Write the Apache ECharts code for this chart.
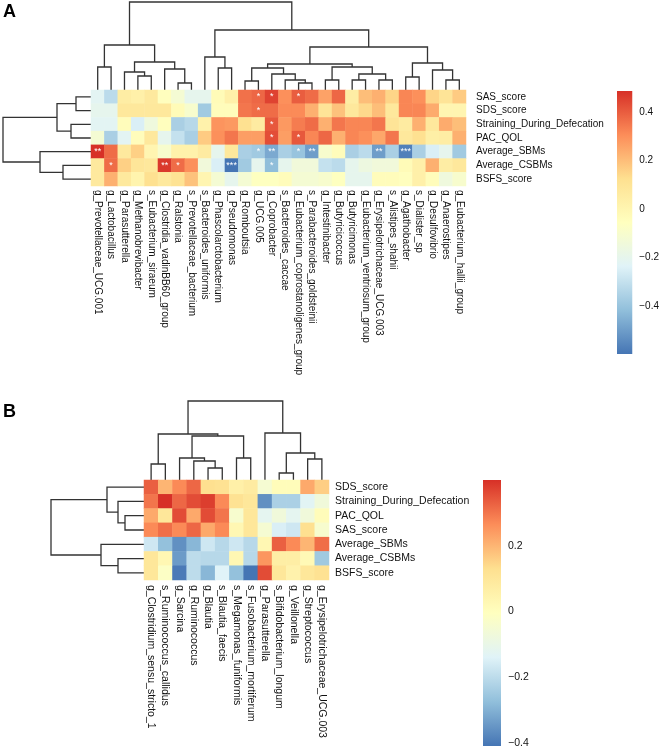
<!DOCTYPE html>
<html>
<head>
<meta charset="utf-8">
<script src="https://cdn.jsdelivr.net/npm/echarts@6/dist/echarts.min.js"></script>
<style>
html, body { margin: 0; padding: 0; background: #fff; }
#chart { width: 662px; height: 749px; }
</style>
</head>
<body>
<div id="chart"></div>
<script>
var font = '"Liberation Sans", Arial, sans-serif';
// pheatmap default: rev(brewer.pal(7, "RdYlBu"))
var palette = ['#4575B4', '#91BFDB', '#E0F3F8', '#FFFFBF', '#FEE090', '#FC8D59', '#D73027'];

// ---- panel A ----
var taxaA = ['g_Prevotellaceae_UCG.001', 'g_Lactobacillus', 'g_Parasutterella', 'g_Methanobrevibacter',
    's_Eubacterium_siraeum', 'g_Clostridia_vadinBB60_group', 'g_Ralstonia', 's_Prevotellaceae_bacterium',
    's_Bacteroides_uniformis', 'g_Phascolarctobacterium', 'g_Pseudomonas', 'g_Romboutsia', 'g_UCG.005',
    'g_Coprobacter', 's_Bacteroides_caccae', 'g_Eubacterium_coprostanoligenes_group',
    's_Parabacteroides_goldsteinii', 'g_Intestinibacter', 'g_Butyricicoccus', 'g_Butyricimonas',
    'g_Eubacterium_ventriosum_group', 'g_Erysipelotrichaceae_UCG.003', 's_Alistipes_shahii',
    'g_Agathobacter', 's_Dialister_sp', 'g_Desulfovibrio', 'g_Anaerostipes', 'g_Eubacterium_hallii_group'];
var rowsA = ['SAS_score', 'SDS_score', 'Straining_During_Defecation', 'PAC_QOL', 'Average_SBMs', 'Average_CSBMs', 'BSFS_score'];
var valuesA = [
    [-0.22, -0.32, 0.05, 0.03, 0.07, -0.05, -0.12, -0.2, -0.2, -0.03, 0.03, 0.36, 0.38, 0.45, 0.3, 0.4, 0.37, 0.26, 0.38, 0.05, 0.2, 0.23, 0.15, 0.32, 0.3, 0.15, 0.1, 0.17],
    [-0.2, -0.2, 0.08, 0.08, 0.08, 0.08, -0.03, -0.1, -0.38, -0.04, -0.04, 0.35, 0.37, 0.37, 0.31, 0.31, 0.23, 0.1, 0.19, 0.08, 0.14, 0.2, 0.08, 0.32, 0.32, 0.24, 0.0, 0.0],
    [-0.22, -0.22, -0.04, -0.25, -0.15, -0.05, -0.36, -0.33, 0.02, 0.29, 0.28, 0.12, 0.06, 0.41, 0.28, 0.34, 0.37, 0.23, 0.35, 0.32, 0.32, 0.35, 0.1, 0.06, 0.23, 0.08, 0.24, 0.2],
    [-0.12, -0.36, -0.22, -0.04, 0.08, -0.2, -0.3, -0.36, 0.17, 0.3, 0.35, 0.27, 0.27, 0.43, 0.27, 0.41, 0.32, 0.38, 0.23, 0.32, 0.3, 0.25, 0.35, 0.08, 0.12, 0.04, 0.05, 0.23],
    [0.487, 0.37, 0.07, 0.16, 0.0, -0.1, 0.02, 0.02, 0.06, -0.2, 0.08, -0.36, -0.38, -0.47, -0.36, -0.4, -0.5, -0.1, -0.04, -0.36, -0.32, -0.5, -0.36, -0.57, -0.36, -0.25, -0.2, -0.38],
    [0.07, 0.37, 0.16, 0.09, 0.08, 0.47, 0.37, 0.3, -0.14, -0.25, -0.598, -0.38, -0.2, -0.42, -0.2, -0.14, -0.14, -0.3, -0.32, -0.2, -0.16, -0.14, -0.14, -0.03, 0.03, 0.23, 0.05, 0.08],
    [0.07, 0.23, 0.07, 0.01, 0.12, 0.07, 0.11, 0.19, 0.0, -0.12, -0.2, -0.12, -0.06, -0.06, -0.04, -0.12, -0.12, -0.1, -0.06, -0.2, -0.2, -0.04, -0.04, -0.05, 0.03, -0.04, -0.15, -0.1]
];
// [column, row, mark]
var starsA = [[12, 0, '*'], [13, 0, '*'], [15, 0, '*'], [12, 1, '*'], [13, 2, '*'], [13, 3, '*'], [15, 3, '*'],
    [0, 4, '**'], [12, 4, '*'], [13, 4, '**'], [15, 4, '*'], [16, 4, '**'], [21, 4, '**'], [23, 4, '***'],
    [1, 5, '*'], [5, 5, '**'], [6, 5, '*'], [10, 5, '***'], [13, 5, '*']];
// hclust style merges: negative = leaf (1-based), positive = earlier merge; third = height
var colTreeA = [[-1, -2, 23], [-4, -5, 14], [-3, 2, 18], [-7, -8, 7], [-6, 4, 21], [3, 5, 28], [1, 6, 45],
    [-10, -11, 22], [-9, 8, 33], [-12, -13, 9], [-16, -17, 7], [-15, 11, 10], [-14, 12, 16], [10, 13, 22],
    [-18, -19, 10], [-20, -21, 10], [-22, -23, 10], [16, 17, 16], [15, 18, 23], [14, 19, 26],
    [-24, -25, 13], [-27, -28, 10], [-26, 22, 20], [21, 23, 27], [20, 24, 43], [9, 25, 60], [7, 26, 88]];
var rowTreeA = [[-1, -2, 15], [-3, -4, 20], [1, 2, 34], [-6, -7, 28], [-5, 4, 51], [3, 5, 88]];
var rangeA = [-0.598, 0.487];
var keyTicksA = [-0.4, -0.2, 0, 0.2, 0.4];

// ---- panel B ----
var taxaB = ['g_Clostridium_sensu_stricto_1', 's_Ruminococcus_callidus', 'g_Sarcina', 'g_Ruminococcus',
    'g_Blautia', 's_Blautia_faecis', 's_Megamonas_funiformis', 's_Fusobacterium_mortiferum',
    'g_Parasutterella', 's_Bifidobacterium_longum', 'g_Veillonella', 'g_Streptococcus', 'g_Erysipelotrichaceae_UCG.003'];
var rowsB = ['SDS_score', 'Straining_During_Defecation', 'PAC_QOL', 'SAS_score', 'Average_SBMs', 'Average_CSBMs', 'BSFS_score'];
var valuesB = [
    [0.33, 0.2, 0.27, 0.32, 0.13, 0.12, 0.06, 0.08, -0.05, 0.01, 0.01, 0.22, 0.16],
    [0.3, 0.40, 0.32, 0.36, 0.38, 0.27, 0.12, 0.1, -0.36, -0.23, -0.23, -0.13, -0.07],
    [0.22, 0.1, 0.36, 0.22, 0.36, 0.3, -0.04, 0.1, -0.12, -0.07, -0.12, -0.07, 0.01],
    [0.27, 0.31, 0.27, 0.32, 0.22, 0.27, 0.03, 0.1, -0.05, -0.15, -0.17, 0.13, -0.04],
    [-0.17, -0.27, -0.36, -0.29, -0.17, -0.21, -0.17, -0.21, 0.03, 0.33, 0.27, 0.2, 0.31],
    [0.1, 0.03, -0.34, -0.2, -0.21, -0.21, 0.03, -0.21, 0.25, 0.07, 0.07, 0.02, -0.25],
    [0.1, -0.02, -0.4, -0.2, -0.29, -0.14, -0.27, -0.41, 0.36, 0.1, 0.05, 0.1, 0.12]
];
var colTreeB = [[-1, -2, 16], [-5, -6, 12], [-4, 2, 19], [-3, 3, 22], [-7, -8, 22], [4, 5, 44], [1, 6, 46],
    [-10, -11, 7], [-12, -13, 21], [8, 9, 27], [-9, 10, 47], [7, 11, 79]];
var rowTreeB = [[-3, -4, 19], [-2, 1, 26], [-1, 2, 37], [-6, -7, 26], [-5, 4, 43], [3, 5, 93]];
var rangeB = [-0.41, 0.40];
var keyTicksB = [-0.4, -0.2, 0, 0.2];

// ---- helpers ----
function cells(values) {
    var out = [];
    values.forEach(function (row, r) {
        row.forEach(function (v, c) { out.push([c, r, v]); });
    });
    return out;
}
function starLookup(list) {
    var m = {};
    list.forEach(function (s) { m[s[0] + '_' + s[1]] = s[2]; });
    return m;
}
// one U-shaped link per merge: [posA, hA, posB, hB, h]
function dendro(tree) {
    var pos = [], hgt = [], segs = [];
    function at(ref) { return ref < 0 ? [-ref - 0.5, 0] : [pos[ref - 1], hgt[ref - 1]]; }
    tree.forEach(function (m) {
        var a = at(m[0]), b = at(m[1]);
        pos.push((a[0] + b[0]) / 2);
        hgt.push(m[2]);
        segs.push([a[0], a[1], b[0], b[1], m[2]]);
    });
    return segs;
}
function treeTop(tree) { return tree[tree.length - 1][2]; }
function linkRender(horizontal) {
    return function (params, api) {
        var pts = [[api.value(0), api.value(1)], [api.value(0), api.value(4)],
                   [api.value(2), api.value(4)], [api.value(2), api.value(3)]];
        pts = pts.map(function (p) { return api.coord(horizontal ? [p[1], p[0]] : p); });
        return { type: 'polyline', shape: { points: pts },
                 style: { stroke: '#333', lineWidth: 1.3, fill: null } };
    };
}
function barRender(params, api) {
    var p0 = api.coord([0, api.value(1)]);
    var p1 = api.coord([1, api.value(0)]);
    var stops = palette.slice().reverse().map(function (c, i) {
        return { offset: i / (palette.length - 1), color: c };
    });
    return { type: 'rect', shape: { x: p0[0], y: p0[1], width: p1[0] - p0[0], height: p1[1] - p0[1] },
             style: { fill: new echarts.graphic.LinearGradient(0, 0, 0, 1, stops) } };
}
function fmt(v) { return v < 0 ? '\u2212' + Math.abs(v) : String(v); }

var hidden = { show: false };
var grids = [], xAxes = [], yAxes = [], series = [], visualMaps = [];

function panel(p) {
    var g0 = grids.length;
    var nc = p.taxa.length, nr = p.rows.length;
    // column dendrogram
    grids.push({ left: p.left, top: p.top - p.colTree, width: p.width, height: p.colTree });
    xAxes.push({ type: 'value', gridIndex: g0, min: 0, max: nc, show: false });
    yAxes.push({ type: 'value', gridIndex: g0, min: 0, max: treeTop(p.ctree), show: false });
    series.push({ type: 'custom', xAxisIndex: g0, yAxisIndex: g0, data: dendro(p.ctree),
                  renderItem: linkRender(false), silent: true });
    // row dendrogram
    grids.push({ left: p.left - p.rowTree, top: p.top, width: p.rowTree, height: p.height });
    xAxes.push({ type: 'value', gridIndex: g0 + 1, min: 0, max: treeTop(p.rtree), inverse: true, show: false });
    yAxes.push({ type: 'value', gridIndex: g0 + 1, min: 0, max: nr, inverse: true, show: false });
    series.push({ type: 'custom', xAxisIndex: g0 + 1, yAxisIndex: g0 + 1, data: dendro(p.rtree),
                  renderItem: linkRender(true), silent: true });
    // heatmap
    grids.push({ left: p.left, top: p.top, width: p.width, height: p.height });
    xAxes.push({ type: 'category', gridIndex: g0 + 2, data: p.taxa,
                 axisLine: hidden, axisTick: hidden,
                 axisLabel: { interval: 0, rotate: -90, margin: p.xMargin, fontSize: p.fs, color: '#111', fontFamily: font } });
    yAxes.push({ type: 'category', gridIndex: g0 + 2, data: p.rows, position: 'right', inverse: true,
                 axisLine: hidden, axisTick: hidden,
                 axisLabel: { interval: 0, margin: p.yMargin, fontSize: p.fs, color: '#111', fontFamily: font } });
    var marks = starLookup(p.stars);
    visualMaps.push({ show: false, seriesIndex: series.length, dimension: 2,
                      min: p.range[0], max: p.range[1], inRange: { color: palette } });
    series.push({ type: 'heatmap', xAxisIndex: g0 + 2, yAxisIndex: g0 + 2, data: cells(p.values),
                  itemStyle: { borderWidth: 0 },
                  label: { show: true, color: '#fff', fontSize: 9, fontFamily: font,
                           formatter: function (d) { return marks[d.value[0] + '_' + d.value[1]] || ''; } } });
    // colour key
    var cb = p.bar;
    grids.push({ left: cb[0], top: cb[1], width: cb[2], height: cb[3] });
    xAxes.push({ type: 'value', gridIndex: g0 + 3, min: 0, max: 1, show: false });
    yAxes.push({ type: 'value', gridIndex: g0 + 3, min: p.range[0], max: p.range[1], position: 'right',
                 axisLine: hidden, axisTick: hidden, splitLine: hidden,
                 axisLabel: { customValues: p.ticks, formatter: fmt, margin: 7, fontSize: p.fs,
                              color: '#111', fontFamily: font } });
    series.push({ type: 'custom', xAxisIndex: g0 + 3, yAxisIndex: g0 + 3,
                  data: [[p.range[0], p.range[1]]], encode: { y: [0, 1] },
                  renderItem: barRender, silent: true });
}

panel({ taxa: taxaA, rows: rowsA, values: valuesA, stars: starsA, ctree: colTreeA, rtree: rowTreeA,
        range: rangeA, ticks: keyTicksA, left: 91, top: 90, width: 375, height: 96, colTree: 88, rowTree: 88,
        xMargin: 4, yMargin: 10, fs: 10, bar: [617, 91, 17, 263] });
panel({ taxa: taxaB, rows: rowsB, values: valuesB, stars: [], ctree: colTreeB, rtree: rowTreeB,
        range: rangeB, ticks: keyTicksB, left: 144, top: 480, width: 185, height: 100, colTree: 79, rowTree: 93,
        xMargin: 5, yMargin: 6, fs: 10.5, bar: [483, 480, 18, 266] });

var chart = echarts.init(document.getElementById('chart'));
chart.setOption({
    animation: false,
    title: [
        { text: 'A', left: 3, top: 3, padding: 0, textStyle: { fontSize: 18, fontWeight: 'bold', color: '#000', fontFamily: font } },
        { text: 'B', left: 3, top: 403, padding: 0, textStyle: { fontSize: 18, fontWeight: 'bold', color: '#000', fontFamily: font } }
    ],
    grid: grids,
    xAxis: xAxes,
    yAxis: yAxes,
    visualMap: visualMaps,
    series: series
});
</script>
</body>
</html>
